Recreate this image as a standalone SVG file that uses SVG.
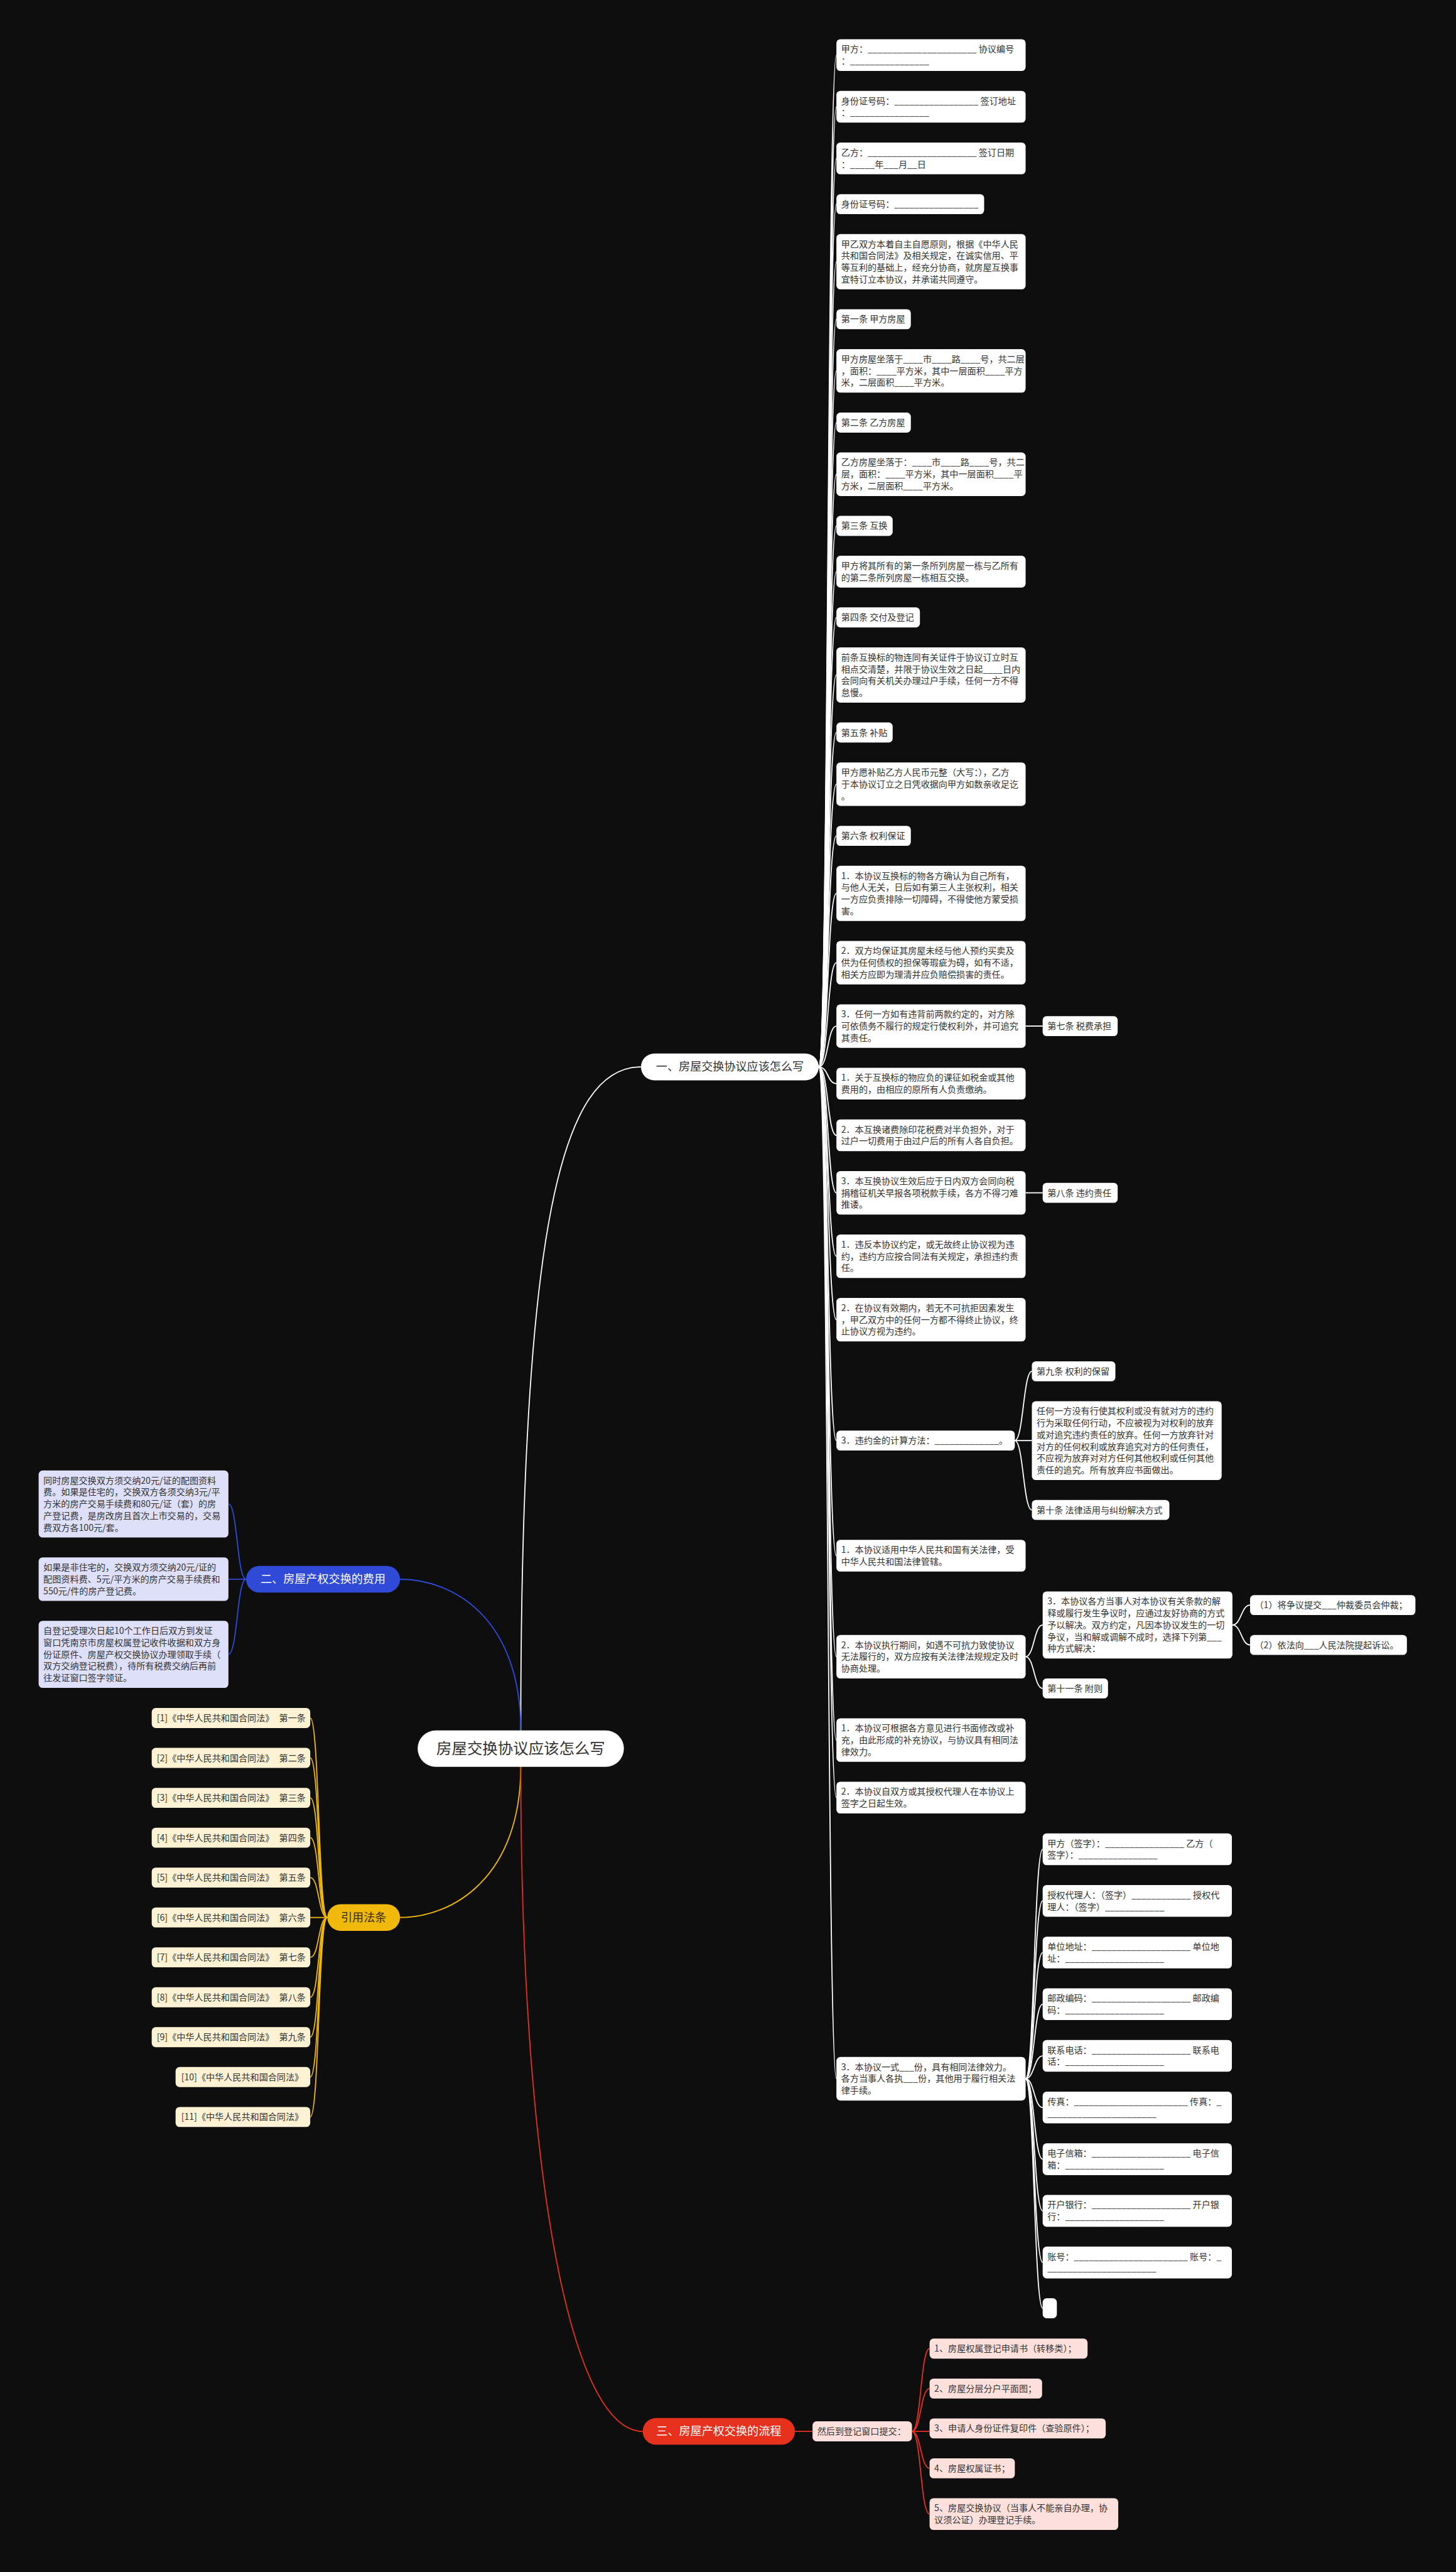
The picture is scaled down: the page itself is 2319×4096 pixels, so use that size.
<svg xmlns="http://www.w3.org/2000/svg" width="2319" height="4096" viewBox="0 0 2319 4096">
<style>
text{font-family:"Noto Sans CJK SC","Noto Sans",sans-serif}
.t{font-size:15.6px;fill:#333}
.wb{fill:#fff}
.lb{fill:#dde0f8}
.cb{fill:#fdf2d4}
.pb{fill:#fde0dc}
.cw{fill:none;stroke:#fff;stroke-width:2}
.cbl{fill:none;stroke:#2f4ad6;stroke-width:2}
.cy{fill:none;stroke:#f0b90b;stroke-width:2}
.cr{fill:none;stroke:#e5311e;stroke-width:2}
.br{font-size:20px}
</style>
<rect width="2319" height="4096" fill="#0e0e0e"/>
<g transform="scale(0.905)">
<g id="connectors">
<path class="cw" stroke-width="2.5" d="M916.5 3045 C916.5 2150 990 1877.5 1128 1877.5"/>
<path class="cbl" stroke-width="2.5" d="M916.5 3045 C916.5 2850 800 2779 704 2779"/>
<path class="cy" stroke-width="2.5" d="M916.5 3109 C916.5 3300 800 3374.2 704 3374.2"/>
<path class="cr" stroke-width="2.5" d="M916.5 3109 C916.5 3800 1000 4278.5 1131 4278.5"/>
<path class="cw" d="M1441 1877.5 C1458 1877.5 1456 97 1472 97"/>
<path class="cw" d="M1441 1877.5 C1458 1877.5 1456 187.9 1472 187.9"/>
<path class="cw" d="M1441 1877.5 C1458 1877.5 1456 278.8 1472 278.8"/>
<path class="cw" d="M1441 1877.5 C1458 1877.5 1456 359.3 1472 359.3"/>
<path class="cw" d="M1441 1877.5 C1458 1877.5 1456 460.6 1472 460.6"/>
<path class="cw" d="M1441 1877.5 C1458 1877.5 1456 561.8 1472 561.8"/>
<path class="cw" d="M1441 1877.5 C1458 1877.5 1456 652.7 1472 652.7"/>
<path class="cw" d="M1441 1877.5 C1458 1877.5 1456 743.6 1472 743.6"/>
<path class="cw" d="M1441 1877.5 C1458 1877.5 1456 834.5 1472 834.5"/>
<path class="cw" d="M1441 1877.5 C1458 1877.5 1456 925.4 1472 925.4"/>
<path class="cw" d="M1441 1877.5 C1458 1877.5 1456 1006 1472 1006"/>
<path class="cw" d="M1441 1877.5 C1458 1877.5 1456 1086.5 1472 1086.5"/>
<path class="cw" d="M1441 1877.5 C1458 1877.5 1456 1187.8 1472 1187.8"/>
<path class="cw" d="M1441 1877.5 C1458 1877.5 1456 1289 1472 1289"/>
<path class="cw" d="M1441 1877.5 C1458 1877.5 1456 1379.9 1472 1379.9"/>
<path class="cw" d="M1441 1877.5 C1458 1877.5 1456 1470.8 1472 1470.8"/>
<path class="cw" d="M1441 1877.5 C1458 1877.5 1456 1572.1 1472 1572.1"/>
<path class="cw" d="M1441 1877.5 C1458 1877.5 1456 1694 1472 1694"/>
<path class="cw" d="M1441 1877.5 C1458 1877.5 1456 1805.6 1472 1805.6"/>
<path class="cw" d="M1441 1877.5 C1458 1877.5 1456 1906.9 1472 1906.9"/>
<path class="cw" d="M1441 1877.5 C1458 1877.5 1456 1997.8 1472 1997.8"/>
<path class="cw" d="M1441 1877.5 C1458 1877.5 1456 2099 1472 2099"/>
<path class="cw" d="M1441 1877.5 C1458 1877.5 1456 2210.6 1472 2210.6"/>
<path class="cw" d="M1441 1877.5 C1458 1877.5 1456 2322.2 1472 2322.2"/>
<path class="cw" d="M1441 1877.5 C1458 1877.5 1456 2535 1472 2535"/>
<path class="cw" d="M1441 1877.5 C1458 1877.5 1456 2737.6 1472 2737.6"/>
<path class="cw" d="M1441 1877.5 C1458 1877.5 1456 2915.3 1472 2915.3"/>
<path class="cw" d="M1441 1877.5 C1458 1877.5 1456 3062 1472 3062"/>
<path class="cw" d="M1441 1877.5 C1458 1877.5 1456 3163.3 1472 3163.3"/>
<path class="cw" d="M1441 1877.5 C1458 1877.5 1456 3658 1472 3658"/>
<path class="cw" d="M1805 1805.6 H1835"/>
<path class="cw" d="M1805 2099 H1835"/>
<path class="cw" d="M1786 2535 C1801 2535 1801 2413.1 1816 2413.1"/>
<path class="cw" d="M1786 2535 H1816"/>
<path class="cw" d="M1786 2535 C1801 2535 1801 2657 1816 2657"/>
<path class="cw" d="M1805 2915.3 C1820 2915.3 1820 2859.5 1835 2859.5"/>
<path class="cw" d="M1805 2915.3 C1820 2915.3 1820 2971.1 1835 2971.1"/>
<path class="cw" d="M2169 2859.5 C2184.5 2859.5 2184.5 2824.4 2200 2824.4"/>
<path class="cw" d="M2169 2859.5 C2184.5 2859.5 2184.5 2894.6 2200 2894.6"/>
<path class="cw" d="M1805 3658 C1820 3658 1820 3254.15 1835 3254.15"/>
<path class="cw" d="M1805 3658 C1820 3658 1820 3345.05 1835 3345.05"/>
<path class="cw" d="M1805 3658 C1820 3658 1820 3435.95 1835 3435.95"/>
<path class="cw" d="M1805 3658 C1820 3658 1820 3526.85 1835 3526.85"/>
<path class="cw" d="M1805 3658 C1820 3658 1820 3617.75 1835 3617.75"/>
<path class="cw" d="M1805 3658 C1820 3658 1820 3708.65 1835 3708.65"/>
<path class="cw" d="M1805 3658 C1820 3658 1820 3799.55 1835 3799.55"/>
<path class="cw" d="M1805 3658 C1820 3658 1820 3890.45 1835 3890.45"/>
<path class="cw" d="M1805 3658 C1820 3658 1820 3981.35 1835 3981.35"/>
<path class="cw" d="M1805 3658 C1820 3658 1820 4061.9 1835 4061.9"/>
<path class="cbl" d="M433 2779 C417 2779 418 2646.6 402 2646.6"/>
<path class="cbl" d="M433 2779 H402"/>
<path class="cbl" d="M433 2779 C417 2779 418 2911.2 402 2911.2"/>
<path class="cy" d="M576 3374.2 C560 3374.2 562 3023.2 546 3023.2"/>
<path class="cy" d="M576 3374.2 C560 3374.2 562 3093.4 546 3093.4"/>
<path class="cy" d="M576 3374.2 C560 3374.2 562 3163.6 546 3163.6"/>
<path class="cy" d="M576 3374.2 C560 3374.2 562 3233.8 546 3233.8"/>
<path class="cy" d="M576 3374.2 C560 3374.2 562 3304 546 3304"/>
<path class="cy" d="M576 3374.2 H546"/>
<path class="cy" d="M576 3374.2 C560 3374.2 562 3444.4 546 3444.4"/>
<path class="cy" d="M576 3374.2 C560 3374.2 562 3514.6 546 3514.6"/>
<path class="cy" d="M576 3374.2 C560 3374.2 562 3584.8 546 3584.8"/>
<path class="cy" d="M576 3374.2 C560 3374.2 562 3655 546 3655"/>
<path class="cy" d="M576 3374.2 C560 3374.2 562 3725.2 546 3725.2"/>
<path class="cr" d="M1399 4278.5 H1430"/>
<path class="cr" d="M1605 4278.5 C1621 4278.5 1620 4132.9 1636 4132.9"/>
<path class="cr" d="M1605 4278.5 C1621 4278.5 1620 4203.1 1636 4203.1"/>
<path class="cr" d="M1605 4278.5 H1636"/>
<path class="cr" d="M1605 4278.5 C1621 4278.5 1620 4343.5 1636 4343.5"/>
<path class="cr" d="M1605 4278.5 C1621 4278.5 1620 4424 1636 4424"/>
</g>

<g id="root"><rect x="735" y="3045" width="363" height="64" rx="32" fill="#fff"/><text x="916.5" y="3086.5" text-anchor="middle" font-size="27" fill="#333">房屋交换协议应该怎么写</text></g>
<g id="branch1"><rect x="1128" y="1854" width="313" height="47" rx="23.5" fill="#fff"/><text class="br" x="1284.5" y="1884.5" text-anchor="middle" fill="#333">一、房屋交换协议应该怎么写</text></g>
<g id="branch2"><rect x="433" y="2755.5" width="271" height="47" rx="23.5" fill="#2f4ad6"/><text class="br" x="568.5" y="2786" text-anchor="middle" fill="#fff">二、房屋产权交换的费用</text></g>
<g id="branch3"><rect x="576" y="3350.7" width="128" height="47" rx="23.5" fill="#f0b90b"/><text class="br" x="640" y="3381.2" text-anchor="middle" fill="#3a2c00">引用法条</text></g>
<g id="branch4"><rect x="1131" y="4255" width="268" height="47" rx="23.5" fill="#e5311e"/><text class="br" x="1265" y="4285.5" text-anchor="middle" fill="#fff">三、房屋产权交换的流程</text></g>

<g id="n1"><rect class="wb" x="1472" y="69" width="333" height="55.9" rx="7"/><text class="t"><tspan x="1480.3" y="92.1">甲方：______________________ 协议编号</tspan><tspan x="1480.3" y="112.8">：________________</tspan></text></g>
<g id="n2"><rect class="wb" x="1472" y="159.9" width="333" height="55.9" rx="7"/><text class="t"><tspan x="1480.3" y="183">身份证号码：_________________ 签订地址</tspan><tspan x="1480.3" y="203.7">：________________</tspan></text></g>
<g id="n3"><rect class="wb" x="1472" y="250.8" width="333" height="55.9" rx="7"/><text class="t"><tspan x="1480.3" y="273.9">乙方：______________________ 签订日期</tspan><tspan x="1480.3" y="294.6">：_____年___月__日</tspan></text></g>
<g id="n4"><rect class="wb" x="1472" y="341.7" width="260" height="35.2" rx="7"/><text class="t" x="1480.3" y="364.8">身份证号码：_________________</text></g>
<g id="n5"><rect class="wb" x="1472" y="411.9" width="333" height="97.3" rx="7"/><text class="t"><tspan x="1480.3" y="435">甲乙双方本着自主自愿原则，根据《中华人民</tspan><tspan x="1480.3" y="455.7">共和国合同法》及相关规定，在诚实信用、平</tspan><tspan x="1480.3" y="476.4">等互利的基础上，经充分协商，就房屋互换事</tspan><tspan x="1480.3" y="497.1">宜特订立本协议，并承诺共同遵守。</tspan></text></g>
<g id="n6"><rect class="wb" x="1472" y="544.2" width="131" height="35.2" rx="7"/><text class="t" x="1480.3" y="567.3">第一条 甲方房屋</text></g>
<g id="n7"><rect class="wb" x="1472" y="614.4" width="333" height="76.6" rx="7"/><text class="t"><tspan x="1480.3" y="637.5">甲方房屋坐落于____市____路____号，共二层</tspan><tspan x="1480.3" y="658.2">，面积：____平方米，其中一层面积____平方</tspan><tspan x="1480.3" y="678.9">米，二层面积____平方米。</tspan></text></g>
<g id="n8"><rect class="wb" x="1472" y="726" width="131" height="35.2" rx="7"/><text class="t" x="1480.3" y="749.1">第二条 乙方房屋</text></g>
<g id="n9"><rect class="wb" x="1472" y="796.2" width="333" height="76.6" rx="7"/><text class="t"><tspan x="1480.3" y="819.3">乙方房屋坐落于：____市____路____号，共二</tspan><tspan x="1480.3" y="840">层，面积：____平方米，其中一层面积____平</tspan><tspan x="1480.3" y="860.7">方米，二层面积____平方米。</tspan></text></g>
<g id="n10"><rect class="wb" x="1472" y="907.8" width="99" height="35.2" rx="7"/><text class="t" x="1480.3" y="930.9">第三条 互换</text></g>
<g id="n11"><rect class="wb" x="1472" y="978" width="333" height="55.9" rx="7"/><text class="t"><tspan x="1480.3" y="1001.1">甲方将其所有的第一条所列房屋一栋与乙所有</tspan><tspan x="1480.3" y="1021.8">的第二条所列房屋一栋相互交换。</tspan></text></g>
<g id="n12"><rect class="wb" x="1472" y="1068.9" width="147" height="35.2" rx="7"/><text class="t" x="1480.3" y="1092">第四条 交付及登记</text></g>
<g id="n13"><rect class="wb" x="1472" y="1139.1" width="333" height="97.3" rx="7"/><text class="t"><tspan x="1480.3" y="1162.2">前条互换标的物连同有关证件于协议订立时互</tspan><tspan x="1480.3" y="1182.9">相点交清楚，并限于协议生效之日起____日内</tspan><tspan x="1480.3" y="1203.6">会同向有关机关办理过户手续，任何一方不得</tspan><tspan x="1480.3" y="1224.3">怠慢。</tspan></text></g>
<g id="n14"><rect class="wb" x="1472" y="1271.4" width="99" height="35.2" rx="7"/><text class="t" x="1480.3" y="1294.5">第五条 补贴</text></g>
<g id="n15"><rect class="wb" x="1472" y="1341.6" width="333" height="76.6" rx="7"/><text class="t"><tspan x="1480.3" y="1364.7">甲方愿补贴乙方人民币元整（大写：），乙方</tspan><tspan x="1480.3" y="1385.4">于本协议订立之日凭收据向甲方如数亲收足讫</tspan><tspan x="1480.3" y="1406.1">。</tspan></text></g>
<g id="n16"><rect class="wb" x="1472" y="1453.2" width="131" height="35.2" rx="7"/><text class="t" x="1480.3" y="1476.3">第六条 权利保证</text></g>
<g id="n17"><rect class="wb" x="1472" y="1523.4" width="333" height="97.3" rx="7"/><text class="t"><tspan x="1480.3" y="1546.5">1．本协议互换标的物各方确认为自己所有，</tspan><tspan x="1480.3" y="1567.2">与他人无关，日后如有第三人主张权利，相关</tspan><tspan x="1480.3" y="1587.9">一方应负责排除一切障碍，不得使他方蒙受损</tspan><tspan x="1480.3" y="1608.6">害。</tspan></text></g>
<g id="n18"><rect class="wb" x="1472" y="1655.7" width="333" height="76.6" rx="7"/><text class="t"><tspan x="1480.3" y="1678.8">2．双方均保证其房屋未经与他人预约买卖及</tspan><tspan x="1480.3" y="1699.5">供为任何债权的担保等瑕疵为碍，如有不适，</tspan><tspan x="1480.3" y="1720.2">相关方应即为理清并应负赔偿损害的责任。</tspan></text></g>
<g id="n19"><rect class="wb" x="1472" y="1767.3" width="333" height="76.6" rx="7"/><text class="t"><tspan x="1480.3" y="1790.4">3．任何一方如有违背前两款约定的，对方除</tspan><tspan x="1480.3" y="1811.1">可依债务不履行的规定行使权利外，并可追究</tspan><tspan x="1480.3" y="1831.8">其责任。</tspan></text></g>
<g id="n19a"><rect class="wb" x="1835" y="1788" width="132" height="35.2" rx="7"/><text class="t" x="1843.3" y="1811.1">第七条 税费承担</text></g>
<g id="n20"><rect class="wb" x="1472" y="1878.9" width="333" height="55.9" rx="7"/><text class="t"><tspan x="1480.3" y="1902">1．关于互换标的物应负的课征如税金或其他</tspan><tspan x="1480.3" y="1922.7">费用的，由相应的原所有人负责缴纳。</tspan></text></g>
<g id="n21"><rect class="wb" x="1472" y="1969.8" width="333" height="55.9" rx="7"/><text class="t"><tspan x="1480.3" y="1992.9">2．本互换诸费除印花税费对半负担外，对于</tspan><tspan x="1480.3" y="2013.6">过户一切费用于由过户后的所有人各自负担。</tspan></text></g>
<g id="n22"><rect class="wb" x="1472" y="2060.7" width="333" height="76.6" rx="7"/><text class="t"><tspan x="1480.3" y="2083.8">3．本互换协议生效后应于日内双方会同向税</tspan><tspan x="1480.3" y="2104.5">捐稽征机关早报各项税款手续，各方不得刁难</tspan><tspan x="1480.3" y="2125.2">推诿。</tspan></text></g>
<g id="n22a"><rect class="wb" x="1835" y="2081.4" width="132" height="35.2" rx="7"/><text class="t" x="1843.3" y="2104.5">第八条 违约责任</text></g>
<g id="n23"><rect class="wb" x="1472" y="2172.3" width="333" height="76.6" rx="7"/><text class="t"><tspan x="1480.3" y="2195.4">1．违反本协议约定，或无故终止协议视为违</tspan><tspan x="1480.3" y="2216.1">约，违约方应按合同法有关规定，承担违约责</tspan><tspan x="1480.3" y="2236.8">任。</tspan></text></g>
<g id="n24"><rect class="wb" x="1472" y="2283.9" width="333" height="76.6" rx="7"/><text class="t"><tspan x="1480.3" y="2307">2．在协议有效期内，若无不可抗拒因素发生</tspan><tspan x="1480.3" y="2327.7">，甲乙双方中的任何一方都不得终止协议，终</tspan><tspan x="1480.3" y="2348.4">止协议方视为违约。</tspan></text></g>
<g id="n25"><rect class="wb" x="1472" y="2517.4" width="314" height="35.2" rx="7"/><text class="t" x="1480.3" y="2540.5">3．违约金的计算方法：_____________。</text></g>
<g id="n25a"><rect class="wb" x="1816" y="2395.5" width="147" height="35.2" rx="7"/><text class="t" x="1824.3" y="2418.6">第九条 权利的保留</text></g>
<g id="n25b"><rect class="wb" x="1816" y="2465.7" width="334" height="138.7" rx="7"/><text class="t"><tspan x="1824.3" y="2488.8">任何一方没有行使其权利或没有就对方的违约</tspan><tspan x="1824.3" y="2509.5">行为采取任何行动，不应被视为对权利的放弃</tspan><tspan x="1824.3" y="2530.2">或对追究违约责任的放弃。任何一方放弃针对</tspan><tspan x="1824.3" y="2550.9">对方的任何权利或放弃追究对方的任何责任，</tspan><tspan x="1824.3" y="2571.6">不应视为放弃对对方任何其他权利或任何其他</tspan><tspan x="1824.3" y="2592.3">责任的追究。所有放弃应书面做出。</tspan></text></g>
<g id="n25c"><rect class="wb" x="1816" y="2639.4" width="242" height="35.2" rx="7"/><text class="t" x="1824.3" y="2662.5">第十条 法律适用与纠纷解决方式</text></g>
<g id="n26"><rect class="wb" x="1472" y="2709.6" width="333" height="55.9" rx="7"/><text class="t"><tspan x="1480.3" y="2732.7">1．本协议适用中华人民共和国有关法律，受</tspan><tspan x="1480.3" y="2753.4">中华人民共和国法律管辖。</tspan></text></g>
<g id="n27"><rect class="wb" x="1472" y="2877" width="333" height="76.6" rx="7"/><text class="t"><tspan x="1480.3" y="2900.1">2．本协议执行期间，如遇不可抗力致使协议</tspan><tspan x="1480.3" y="2920.8">无法履行的，双方应按有关法律法规规定及时</tspan><tspan x="1480.3" y="2941.5">协商处理。</tspan></text></g>
<g id="n27a"><rect class="wb" x="1835" y="2800.5" width="334" height="118" rx="7"/><text class="t"><tspan x="1843.3" y="2823.6">3．本协议各方当事人对本协议有关条款的解</tspan><tspan x="1843.3" y="2844.3">释或履行发生争议时，应通过友好协商的方式</tspan><tspan x="1843.3" y="2865">予以解决。双方约定，凡因本协议发生的一切</tspan><tspan x="1843.3" y="2885.7">争议，当和解或调解不成时，选择下列第___</tspan><tspan x="1843.3" y="2906.4">种方式解决：</tspan></text></g>
<g id="n27a1"><rect class="wb" x="2200" y="2806.8" width="291" height="35.2" rx="7"/><text class="t" x="2208.3" y="2829.9">（1）将争议提交___仲裁委员会仲裁；</text></g>
<g id="n27a2"><rect class="wb" x="2200" y="2877" width="276" height="35.2" rx="7"/><text class="t" x="2208.3" y="2900.1">（2）依法向___人民法院提起诉讼。</text></g>
<g id="n27b"><rect class="wb" x="1835" y="2953.5" width="115" height="35.2" rx="7"/><text class="t" x="1843.3" y="2976.6">第十一条 附则</text></g>
<g id="n28"><rect class="wb" x="1472" y="3023.7" width="333" height="76.6" rx="7"/><text class="t"><tspan x="1480.3" y="3046.8">1．本协议可根据各方意见进行书面修改或补</tspan><tspan x="1480.3" y="3067.5">充，由此形成的补充协议，与协议具有相同法</tspan><tspan x="1480.3" y="3088.2">律效力。</tspan></text></g>
<g id="n29"><rect class="wb" x="1472" y="3135.3" width="333" height="55.9" rx="7"/><text class="t"><tspan x="1480.3" y="3158.4">2．本协议自双方或其授权代理人在本协议上</tspan><tspan x="1480.3" y="3179.1">签字之日起生效。</tspan></text></g>
<g id="n30"><rect class="wb" x="1472" y="3619.7" width="333" height="76.6" rx="7"/><text class="t"><tspan x="1480.3" y="3642.8">3．本协议一式___份，具有相同法律效力。</tspan><tspan x="1480.3" y="3663.5">各方当事人各执___份，其他用于履行相关法</tspan><tspan x="1480.3" y="3684.2">律手续。</tspan></text></g>
<g id="c1"><rect class="wb" x="1835" y="3226.2" width="333" height="55.9" rx="7"/><text class="t"><tspan x="1843.3" y="3249.3">甲方（签字）：________________ 乙方（</tspan><tspan x="1843.3" y="3270">签字）：________________</tspan></text></g>
<g id="c2"><rect class="wb" x="1835" y="3317.1" width="333" height="55.9" rx="7"/><text class="t"><tspan x="1843.3" y="3340.2">授权代理人：（签字）____________ 授权代</tspan><tspan x="1843.3" y="3360.9">理人：（签字）____________</tspan></text></g>
<g id="c3"><rect class="wb" x="1835" y="3408" width="333" height="55.9" rx="7"/><text class="t"><tspan x="1843.3" y="3431.1">单位地址：____________________ 单位地</tspan><tspan x="1843.3" y="3451.8">址：____________________</tspan></text></g>
<g id="c4"><rect class="wb" x="1835" y="3498.9" width="333" height="55.9" rx="7"/><text class="t"><tspan x="1843.3" y="3522">邮政编码：____________________ 邮政编</tspan><tspan x="1843.3" y="3542.7">码：____________________</tspan></text></g>
<g id="c5"><rect class="wb" x="1835" y="3589.8" width="333" height="55.9" rx="7"/><text class="t"><tspan x="1843.3" y="3612.9">联系电话：____________________ 联系电</tspan><tspan x="1843.3" y="3633.6">话：____________________</tspan></text></g>
<g id="c6"><rect class="wb" x="1835" y="3680.7" width="333" height="55.9" rx="7"/><text class="t"><tspan x="1843.3" y="3703.8">传真：_______________________ 传真：_</tspan><tspan x="1843.3" y="3724.5">______________________</tspan></text></g>
<g id="c7"><rect class="wb" x="1835" y="3771.6" width="333" height="55.9" rx="7"/><text class="t"><tspan x="1843.3" y="3794.7">电子信箱：____________________ 电子信</tspan><tspan x="1843.3" y="3815.4">箱：____________________</tspan></text></g>
<g id="c8"><rect class="wb" x="1835" y="3862.5" width="333" height="55.9" rx="7"/><text class="t"><tspan x="1843.3" y="3885.6">开户银行：____________________ 开户银</tspan><tspan x="1843.3" y="3906.3">行：____________________</tspan></text></g>
<g id="c9"><rect class="wb" x="1835" y="3953.4" width="333" height="55.9" rx="7"/><text class="t"><tspan x="1843.3" y="3976.5">账号：_______________________ 账号：_</tspan><tspan x="1843.3" y="3997.2">______________________</tspan></text></g>
<g id="c10"><rect class="wb" x="1835" y="4044.3" width="25" height="35.2" rx="7"/></g>

<g id="f1"><rect class="lb" x="68" y="2587.6" width="334" height="118" rx="7"/><text class="t" fill="#222"><tspan x="76.3" y="2610.7">同时房屋交换双方须交纳20元/证的配图资料</tspan><tspan x="76.3" y="2631.4">费。如果是住宅的，交换双方各须交纳3元/平</tspan><tspan x="76.3" y="2652.1">方米的房产交易手续费和80元/证（套）的房</tspan><tspan x="76.3" y="2672.8">产登记费，是房改房且首次上市交易的，交易</tspan><tspan x="76.3" y="2693.5">费双方各100元/套。</tspan></text></g>
<g id="f2"><rect class="lb" x="68" y="2740.6" width="334" height="76.6" rx="7"/><text class="t"><tspan x="76.3" y="2763.7">如果是非住宅的，交换双方须交纳20元/证的</tspan><tspan x="76.3" y="2784.4">配图资料费、5元/平方米的房产交易手续费和</tspan><tspan x="76.3" y="2805.1">550元/件的房产登记费。</tspan></text></g>
<g id="f3"><rect class="lb" x="68" y="2852.2" width="334" height="118" rx="7"/><text class="t"><tspan x="76.3" y="2875.3">自登记受理次日起10个工作日后双方到发证</tspan><tspan x="76.3" y="2896">窗口凭南京市房屋权属登记收件收据和双方身</tspan><tspan x="76.3" y="2916.7">份证原件、房屋产权交换协议办理领取手续（</tspan><tspan x="76.3" y="2937.4">双方交纳登记税费），待所有税费交纳后再前</tspan><tspan x="76.3" y="2958.1">往发证窗口签字领证。</tspan></text></g>

<g id="l1"><rect class="cb" x="267" y="3005.6" width="279" height="35.2" rx="7"/><text class="t" fill="#3b2f12" x="276" y="3028.7">[1]《中华人民共和国合同法》</text><text class="t" fill="#3b2f12" x="538" y="3028.7" text-anchor="end">第一条</text></g>
<g id="l2"><rect class="cb" x="267" y="3075.8" width="279" height="35.2" rx="7"/><text class="t" fill="#3b2f12" x="276" y="3098.9">[2]《中华人民共和国合同法》</text><text class="t" fill="#3b2f12" x="538" y="3098.9" text-anchor="end">第二条</text></g>
<g id="l3"><rect class="cb" x="267" y="3146" width="279" height="35.2" rx="7"/><text class="t" fill="#3b2f12" x="276" y="3169.1">[3]《中华人民共和国合同法》</text><text class="t" fill="#3b2f12" x="538" y="3169.1" text-anchor="end">第三条</text></g>
<g id="l4"><rect class="cb" x="267" y="3216.2" width="279" height="35.2" rx="7"/><text class="t" fill="#3b2f12" x="276" y="3239.3">[4]《中华人民共和国合同法》</text><text class="t" fill="#3b2f12" x="538" y="3239.3" text-anchor="end">第四条</text></g>
<g id="l5"><rect class="cb" x="267" y="3286.4" width="279" height="35.2" rx="7"/><text class="t" fill="#3b2f12" x="276" y="3309.5">[5]《中华人民共和国合同法》</text><text class="t" fill="#3b2f12" x="538" y="3309.5" text-anchor="end">第五条</text></g>
<g id="l6"><rect class="cb" x="267" y="3356.6" width="279" height="35.2" rx="7"/><text class="t" fill="#3b2f12" x="276" y="3379.7">[6]《中华人民共和国合同法》</text><text class="t" fill="#3b2f12" x="538" y="3379.7" text-anchor="end">第六条</text></g>
<g id="l7"><rect class="cb" x="267" y="3426.8" width="279" height="35.2" rx="7"/><text class="t" fill="#3b2f12" x="276" y="3449.9">[7]《中华人民共和国合同法》</text><text class="t" fill="#3b2f12" x="538" y="3449.9" text-anchor="end">第七条</text></g>
<g id="l8"><rect class="cb" x="267" y="3497" width="279" height="35.2" rx="7"/><text class="t" fill="#3b2f12" x="276" y="3520.1">[8]《中华人民共和国合同法》</text><text class="t" fill="#3b2f12" x="538" y="3520.1" text-anchor="end">第八条</text></g>
<g id="l9"><rect class="cb" x="267" y="3567.2" width="279" height="35.2" rx="7"/><text class="t" fill="#3b2f12" x="276" y="3590.3">[9]《中华人民共和国合同法》</text><text class="t" fill="#3b2f12" x="538" y="3590.3" text-anchor="end">第九条</text></g>
<g id="l10"><rect class="cb" x="309" y="3637.4" width="237" height="35.2" rx="7"/><text class="t" fill="#3b2f12" x="319" y="3660.5">[10]《中华人民共和国合同法》</text></g>
<g id="l11"><rect class="cb" x="309" y="3707.6" width="237" height="35.2" rx="7"/><text class="t" fill="#3b2f12" x="319" y="3730.7">[11]《中华人民共和国合同法》</text></g>

<g id="p0"><rect class="pb" x="1430" y="4260.9" width="175" height="35.2" rx="7"/><text class="t" x="1438.3" y="4284">然后到登记窗口提交：</text></g>
<g id="p1"><rect class="pb" x="1636" y="4115.3" width="278" height="35.2" rx="7"/><text class="t" x="1644.3" y="4138.4">1、房屋权属登记申请书（转移类）；</text></g>
<g id="p2"><rect class="pb" x="1636" y="4185.5" width="198" height="35.2" rx="7"/><text class="t" x="1644.3" y="4208.6">2、房屋分层分户平面图；</text></g>
<g id="p3"><rect class="pb" x="1636" y="4255.7" width="310" height="35.2" rx="7"/><text class="t" x="1644.3" y="4278.8">3、申请人身份证件复印件（查验原件）；</text></g>
<g id="p4"><rect class="pb" x="1636" y="4325.9" width="150" height="35.2" rx="7"/><text class="t" x="1644.3" y="4349">4、房屋权属证书；</text></g>
<g id="p5"><rect class="pb" x="1636" y="4396.1" width="332" height="55.9" rx="7"/><text class="t"><tspan x="1644.3" y="4419.2">5、房屋交换协议（当事人不能亲自办理，协</tspan><tspan x="1644.3" y="4439.9">议须公证）办理登记手续。</tspan></text></g>
</g>
</svg>
